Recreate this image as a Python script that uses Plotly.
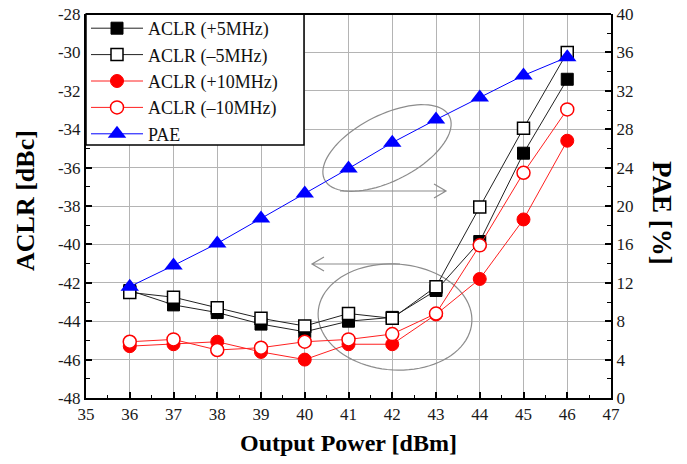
import numpy as np
import plotly.graph_objects as go

# Output power sweep [dBm]
power = [36, 37, 38, 39, 40, 41, 42, 43, 44, 45, 46]

# Adjacent channel leakage ratio [dBc]
aclr_p5 = [-42.4, -43.15, -43.55, -44.15, -44.55, -44.0, -43.8, -42.4, -39.85, -35.25, -31.4]
aclr_m5 = [-42.5, -42.75, -43.3, -43.85, -44.25, -43.6, -43.85, -42.2, -38.05, -33.95, -30.0]
aclr_p10 = [-45.3, -45.2, -45.07, -45.6, -46.0, -45.2, -45.2, -43.65, -41.8, -38.7, -34.6]
aclr_m10 = [-45.07, -44.95, -45.5, -45.38, -45.07, -44.95, -44.67, -43.6, -40.05, -36.27, -32.97]

# Power added efficiency [%]
pae = [11.6, 13.8, 16.1, 18.7, 21.3, 23.9, 26.6, 29.0, 31.3, 33.6, 35.5]

x_ticks = list(range(35, 48))
y_ticks = list(range(-48, -27, 2))
y2_ticks = list(range(0, 41, 4))

FONT = "Liberation Serif, Times New Roman, serif"
W, H = 687, 464
L, R, T, B = 86, 611, 14, 398
X0, X1 = 35, 47
Y0, Y1 = -48, -28


def px2x(px):
    return X0 + (px - L) / (R - L) * (X1 - X0)


def py2y(py):
    return Y1 - (py - T) / (B - T) * (Y1 - Y0)


def paper_x(px):
    return (px - L) / (R - L)


def paper_y(py):
    return 1 - (py - T) / (B - T)


def ellipse_path(cx, cy, a, b, theta_deg, n=90):
    th = np.radians(theta_deg)
    t = np.linspace(0, 2 * np.pi, n)
    ex = cx + a * np.cos(t) * np.cos(th) - b * np.sin(t) * np.sin(th)
    ey = cy - (a * np.cos(t) * np.sin(th) + b * np.sin(t) * np.cos(th))
    pts = [f"{px2x(u):.4f},{py2y(v):.4f}" for u, v in zip(ex, ey)]
    return "M" + " L".join(pts) + " Z"


def arrow_path(x_start, x_tip, y, arm=12, half=7):
    d = 1 if x_tip > x_start else -1
    return (f"M{px2x(x_start):.4f},{py2y(y):.4f} L{px2x(x_tip):.4f},{py2y(y):.4f} "
            f"M{px2x(x_tip - d * arm):.4f},{py2y(y - half):.4f} "
            f"L{px2x(x_tip):.4f},{py2y(y):.4f} "
            f"L{px2x(x_tip - d * arm):.4f},{py2y(y + half):.4f}")


fig = go.Figure()

fig.add_trace(go.Scatter(
    x=power, y=aclr_p5, name="ACLR (+5MHz)", mode="lines+markers",
    line=dict(color="#222222", width=1),
    marker=dict(symbol="square", size=12, color="black", line=dict(color="black", width=1))))
fig.add_trace(go.Scatter(
    x=power, y=aclr_m5, name="ACLR (\u20135MHz)", mode="lines+markers",
    line=dict(color="#222222", width=1),
    marker=dict(symbol="square", size=12, color="white", line=dict(color="black", width=1.5))))
fig.add_trace(go.Scatter(
    x=power, y=aclr_p10, name="ACLR (+10MHz)", mode="lines+markers",
    line=dict(color="#ff2020", width=1),
    marker=dict(symbol="circle", size=13, color="#ff0000", line=dict(color="#ff0000", width=1))))
fig.add_trace(go.Scatter(
    x=power, y=aclr_m10, name="ACLR (\u201310MHz)", mode="lines+markers",
    line=dict(color="#ff2020", width=1),
    marker=dict(symbol="circle", size=13, color="white", line=dict(color="#ff0000", width=1.5))))
fig.add_trace(go.Scatter(
    x=power, y=pae, name="PAE", mode="lines+markers", yaxis="y2",
    line=dict(color="#0000ff", width=1),
    marker=dict(symbol="triangle-up", size=16, color="#0000ff", line=dict(color="#0000ff", width=0))))

shape_style = dict(type="path", xref="x", yref="y", layer="between",
                   line=dict(color="#8c8c8c", width=1.2))
shapes = [
    dict(path=ellipse_path(387, 148, 70, 33, 27), **shape_style),
    dict(path=ellipse_path(395, 317, 77, 53, -4), **shape_style),
    dict(path=arrow_path(340, 446, 191), **shape_style),
    dict(path=arrow_path(400, 312, 264), **shape_style),
    # legend frame
    dict(type="rect", xref="paper", yref="paper", layer="above",
         x0=0, x1=paper_x(304), y0=paper_y(145), y1=1,
         fillcolor="white", line=dict(color="black", width=1.5)),
    # top frame line
    dict(type="line", xref="paper", yref="paper", x0=0, x1=1, y0=1, y1=1,
         line=dict(color="black", width=2), layer="above"),
]

axis_common = dict(
    showline=True, linecolor="black", linewidth=2, mirror=False,
    ticks="inside", ticklen=6, tickwidth=1.5, tickcolor="black",
    tickfont=dict(family=FONT, size=17, color="#1a1a1a"),
    zeroline=False,
)

fig.update_layout(
    width=W, height=H,
    margin=dict(l=L, r=W - R, t=T, b=H - B, pad=0, autoexpand=False),
    paper_bgcolor="white", plot_bgcolor="white",
    font=dict(family=FONT, color="black"),
    showlegend=True,
    legend=dict(
        x=0, y=paper_y(10), xanchor="left", yanchor="top",
        bgcolor="rgba(0,0,0,0)", borderwidth=0,
        font=dict(family=FONT, size=18, color="#111111"),
        itemwidth=52, tracegroupgap=0,
    ),
    xaxis=dict(
        range=[X0, X1], tickvals=x_ticks, ticktext=[str(v) for v in x_ticks],
        showgrid=True, gridcolor="#b4b4b4", gridwidth=1,
        minor=dict(ticks="inside", ticklen=3, tickwidth=1.2, tickcolor="black",
                   dtick=0.5, showgrid=False),
        **axis_common,
    ),
    yaxis=dict(
        range=[Y0, Y1], tickvals=y_ticks, ticktext=[str(v) for v in y_ticks],
        showgrid=True, gridcolor="#b4b4b4", gridwidth=1,
        minor=dict(ticks="inside", ticklen=4, tickwidth=1.2, tickcolor="black",
                   dtick=1, showgrid=False),
        **axis_common,
    ),
    yaxis2=dict(
        range=[0, 40], tickvals=y2_ticks, ticktext=[str(v) for v in y2_ticks],
        overlaying="y", side="right", showgrid=False,
        minor=dict(ticks="inside", ticklen=4, tickwidth=1.2, tickcolor="black",
                   dtick=2, showgrid=False),
        **axis_common,
    ),
    shapes=shapes,
    annotations=[
        dict(text="<b>ACLR [dBc]</b>", xref="paper", yref="paper",
             x=paper_x(25), y=paper_y(201),
             xanchor="center", yanchor="middle", textangle=-90, showarrow=False,
             font=dict(family=FONT, size=26, color="black")),
        dict(text="<b>PAE [%]</b>", xref="paper", yref="paper",
             x=paper_x(662), y=paper_y(213),
             xanchor="center", yanchor="middle", textangle=90, showarrow=False,
             font=dict(family=FONT, size=27, color="black")),
        dict(text="<b>Output Power [dBm]</b>", xref="paper", yref="paper",
             x=paper_x(348), y=paper_y(443),
             xanchor="center", yanchor="middle", showarrow=False,
             font=dict(family=FONT, size=24, color="black")),
    ],
)

fig.write_html("out.html")
